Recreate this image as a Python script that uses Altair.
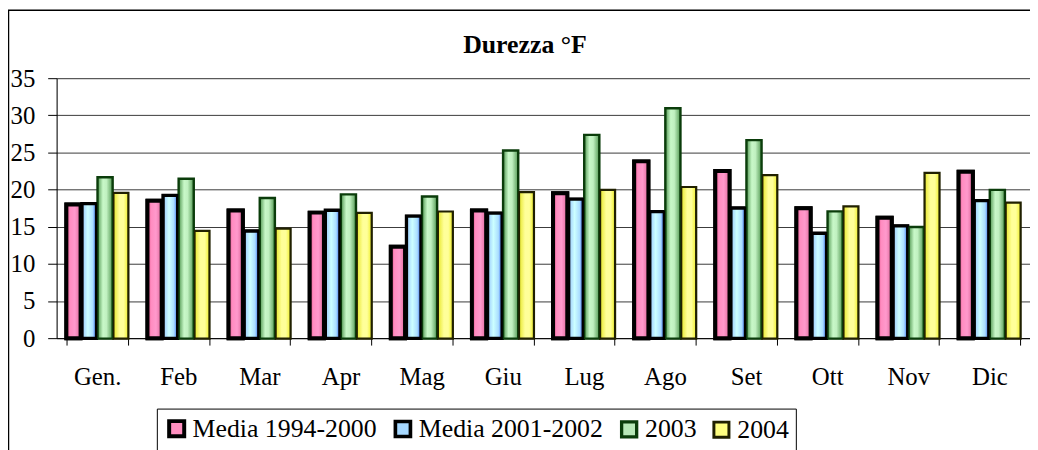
import altair as alt
import pandas as pd

chart_title = "Durezza °F"
months = ["Gen.", "Feb", "Mar", "Apr", "Mag", "Giu", "Lug", "Ago", "Set", "Ott", "Nov", "Dic"]
series = ["Media 1994-2000", "Media 2001-2002", "2003", "2004"]

media_1994_2000 = [18.0, 18.5, 17.2, 16.9, 12.3, 17.2, 19.5, 23.8, 22.5, 17.5, 16.2, 22.4]
media_2001_2002 = [18.1, 19.2, 14.4, 17.2, 16.4, 16.8, 18.7, 17.0, 17.5, 14.1, 15.1, 18.5]
anno_2003 = [21.6, 21.4, 18.8, 19.3, 19.0, 25.2, 27.3, 30.9, 26.6, 17.0, 14.9, 19.9]
anno_2004 = [19.5, 14.4, 14.7, 16.8, 17.0, 19.6, 19.9, 20.3, 21.9, 17.7, 22.2, 18.2]

values_by_series = [media_1994_2000, media_2001_2002, anno_2003, anno_2004]
rows = []
for s, vals in zip(series, values_by_series):
    for m, v in zip(months, vals):
        rows.append({"month": m, "series": s, "value": v})
df = pd.DataFrame(rows)

FONT = "Liberation Serif"

solid = ["#FF8FC0", "#A6D8FF", "#B8E8B8", "#FFFF80"]
strokes = ["#000000", "#000000", "#0B3D0B", "#202000"]
stroke_w = [4, 3, 1.5, 1.5]
gradients = [
    [("0", "#D9487F"), ("0.25", "#FF8CC0"), ("0.6", "#FF99CC"), ("1", "#E0689A")],
    [("0", "#99C8FF"), ("0.4", "#CCFFFF"), ("0.75", "#AADDFF"), ("1", "#3366EE")],
    [("0", "#5A9E5A"), ("0.35", "#C8F8C8"), ("0.6", "#C0F0C0"), ("1", "#5CA05C")],
    [("0", "#E8E830"), ("0.4", "#FFFF99"), ("0.7", "#FFFF99"), ("1", "#F0F030")],
]

x_enc = alt.X(
    "month:N",
    sort=months,
    scale=alt.Scale(domain=months, paddingInner=0.24, paddingOuter=0.12),
    axis=alt.Axis(
        title=None, labelAngle=0, labelFont=FONT, labelFontSize=25, labelColor="black",
        labelPadding=20, tickSize=7, tickColor="black", tickBand="extent",
        domainColor="black", grid=False,
    ),
)
xo_enc = alt.XOffset("series:N", sort=series, scale=alt.Scale(domain=series, paddingInner=0.1, paddingOuter=0))
y_enc = alt.Y(
    "value:Q",
    scale=alt.Scale(domain=[0, 35], nice=False),
    axis=alt.Axis(
        title=None, values=[0, 5, 10, 15, 20, 25, 30, 35], labelFont=FONT, labelFontSize=25,
        labelColor="black", tickSize=9, labelPadding=13, tickColor="black",
        gridColor="#3a3a3a", domainColor="black",
    ),
)

border = alt.Chart(pd.DataFrame({"a": [0]})).mark_rect(
    fill="transparent", stroke="black", strokeWidth=1.5, clip=False
).encode(
    x=alt.value(-48.5), x2=alt.value(1200), y=alt.value(-68.5), y2=alt.value(600)
)

title_layer = alt.Chart(pd.DataFrame({"t": [chart_title]})).mark_text(
    font=FONT, fontSize=26, fontWeight="bold", color="black", baseline="alphabetic", align="center"
).encode(text="t:N", x=alt.value(472), y=alt.value(-25))

legend = alt.Legend(
    title=None, orient="none", legendX=101, legendY=333, direction="horizontal",
    strokeColor="black", fillColor="white", padding=7, symbolType="square", symbolSize=230,
    labelFont=FONT, labelFontSize=26, labelColor="black", labelOffset=3, columnPadding=11,
    labelLimit=400,
)

base = alt.Chart(df).mark_bar().encode(
    x=x_enc, xOffset=xo_enc, y=y_enc,
    fill=alt.Fill("series:N", sort=series, scale=alt.Scale(domain=series, range=solid), legend=legend),
    stroke=alt.Stroke("series:N", sort=series, scale=alt.Scale(domain=series, range=strokes), legend=legend),
    strokeWidth=alt.StrokeWidth("series:N", sort=series, scale=alt.Scale(domain=series, range=stroke_w), legend=legend),
)

layers = [border, base]
for i, s in enumerate(series):
    grad = alt.LinearGradient(
        gradient="linear", x1=0, x2=1, y1=0, y2=0,
        stops=[alt.GradientStop(offset=float(o), color=c) for o, c in gradients[i]],
    )
    layers.append(
        alt.Chart(df).transform_filter(alt.datum.series == s).mark_bar(
            fill=grad, stroke=strokes[i], strokeWidth=stroke_w[i],
        ).encode(x=x_enc, xOffset=xo_enc, y=y_enc)
    )
layers.append(title_layer)

chart = alt.layer(*layers).properties(
    width=981, height=262,
    autosize=alt.AutoSizeParams(type="none"),
    padding={"left": 49, "top": 69, "right": 0, "bottom": 111},
    background="white",
).configure_view(strokeWidth=0).configure_legend(
    labelFont=FONT, labelFontSize=26, labelColor="black", labelLimit=400
).configure(font=FONT)

chart.save("out.html", embed_options={"renderer": "svg", "actions": False})
